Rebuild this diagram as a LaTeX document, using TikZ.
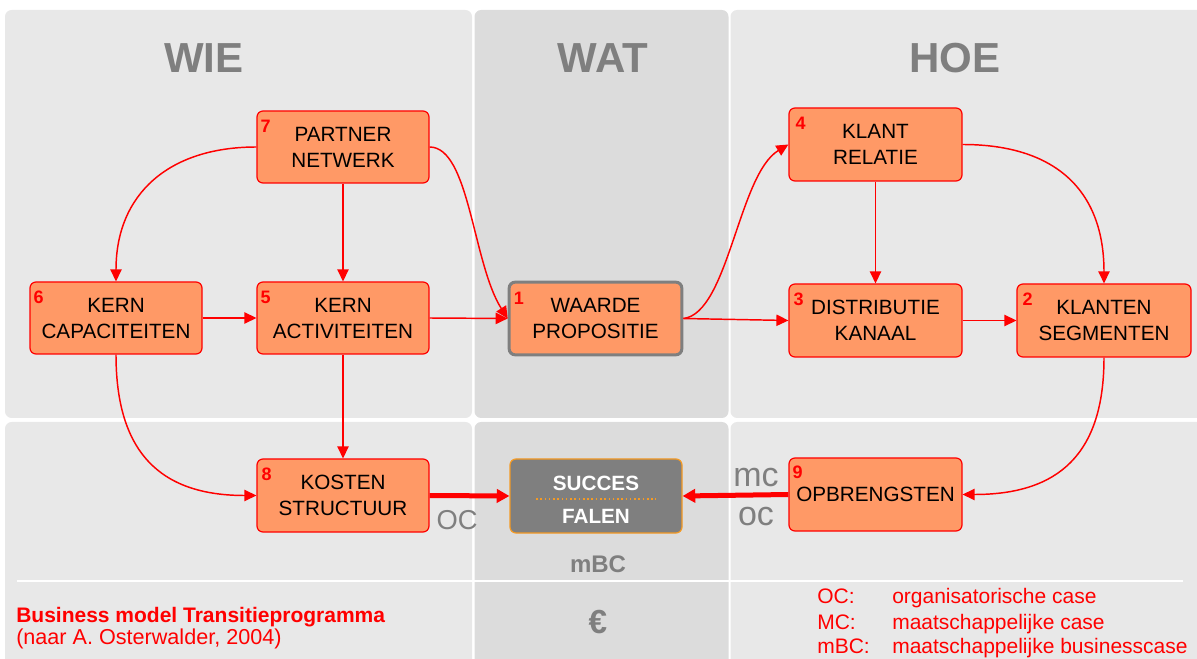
\documentclass[tikz,border=0pt]{standalone}
\usepackage{fontspec}
\setmainfont{Liberation Sans}
\usetikzlibrary{arrows.meta}
\definecolor{boxfill}{HTML}{FF9966}
\definecolor{panelside}{HTML}{E8E8E8}
\definecolor{panelmid}{HTML}{DCDCDC}
\definecolor{labelgray}{HTML}{7F7F7F}
\definecolor{succborder}{HTML}{F59A23}
\begin{document}
\begin{tikzpicture}[x=0.75pt,y=-0.75pt,
  block/.style={draw=red, fill=boxfill, line width=0.9pt, rounded corners=4.5pt,
    minimum width=129pt, minimum height=54pt, align=center, inner sep=0pt,
    font=\fontsize{15.5pt}{19.5pt}\selectfont},
  num/.style={anchor=base west, text=red, inner sep=0pt,
    font=\fontsize{13.5pt}{16pt}\selectfont\bfseries},
  title/.style={anchor=base, text=labelgray, inner sep=0pt,
    font=\fontsize{31.5pt}{34pt}\selectfont\bfseries},
  link/.style={draw=red, line width=1.1pt, -{Triangle[length=9pt,width=8.5pt]}},
  thick link/.style={draw=red, line width=3.75pt, -{Triangle[length=9.5pt,width=10pt]}},
  caselabel/.style={anchor=base, text=labelgray, inner sep=0pt},
  legend/.style={anchor=base west, text=red, inner sep=0pt,
    font=\fontsize{15.75pt}{18pt}\selectfont},
  panel/.style={rounded corners=5pt}
]
\useasboundingbox (0,0) rectangle (1197,659);
\clip (0,0) rectangle (1197,659);

% background panels
\fill[panelside, panel] (5,10) rectangle (472,418);
\fill[panelmid, panel] (474.5,10) rectangle (728.5,418);
\fill[panelside, panel] (730.5,10) rectangle (1215,418);
\fill[panelside, panel] (5,422) rectangle (472,680);
\fill[panelmid, panel] (474.5,422) rectangle (728.5,680);
\fill[panelside, panel] (730.5,422) rectangle (1215,680);
\draw[white, line width=1.5pt] (17,581) -- (1183,581);

% column titles
\node[title] (twie) at (204,73) {WIE};
\node[title] (twat) at (603,73) {WAT};
\node[title] (thoe) at (955,73) {HOE};

% building blocks
\node[block] (p7) at (343,147) {PARTNER\\NETWERK};
\node[block] (p6) at (116,318) {KERN\\CAPACITEITEN};
\node[block] (p5) at (343,318) {KERN\\ACTIVITEITEN};
\node[block, draw=labelgray, line width=2.25pt, minimum width=129.5pt, minimum height=54.5pt] (p1) at (595.5,318.5) {WAARDE\\PROPOSITIE};
\node[block, minimum width=129.75pt, minimum height=54.75pt] (p4) at (875.5,144.5) {KLANT\\RELATIE};
\node[block, minimum width=129.75pt, minimum height=54.75pt] (p3) at (875.5,320.5) {DISTRIBUTIE\\KANAAL};
\node[block, minimum width=130.5pt, minimum height=54.75pt] (p2) at (1104,320.5) {KLANTEN\\SEGMENTEN};
\node[block, minimum width=129.75pt, minimum height=54.75pt] (p9) at (875.5,494.5) {OPBRENGSTEN};
\node[block, minimum width=129pt, minimum height=54.75pt] (p8) at (343,495.5) {KOSTEN\\STRUCTUUR};
\node[draw=succborder, fill=labelgray, line width=0.9pt, rounded corners=4.5pt,
  minimum width=129pt, minimum height=55.5pt, inner sep=0pt] (succ) at (596,496) {};
\node[anchor=base, text=white, inner sep=0pt, font=\fontsize{15.5pt}{18pt}\selectfont\bfseries] (tsucc) at (596,490) {SUCCES};
\node[anchor=base, text=white, inner sep=0pt, font=\fontsize{15.5pt}{18pt}\selectfont\bfseries] (tfal) at (596,523) {FALEN};
\draw[succborder, line width=1.2pt, dotted] (536,499) -- (656,499);

% block numbers
\node[num] (n7) at ([shift={(4,22)}]p7.north west) {7};
\node[num] (n6) at ([shift={(4,22)}]p6.north west) {6};
\node[num] (n5) at ([shift={(4,22)}]p5.north west) {5};
\node[num] (n1) at ([shift={(6,24)}]p1.north west) {1};
\node[num] (n4) at ([shift={(7,22)}]p4.north west) {4};
\node[num] (n3) at ([shift={(5,22)}]p3.north west) {3};
\node[num] (n2) at ([shift={(6,22)}]p2.north west) {2};
\node[num] (n9) at ([shift={(4,21)}]p9.north west) {9};
\node[num] (n8) at ([shift={(5,22)}]p8.north west) {8};

% connectors
\draw[link] (p7.west) to[out=180,in=90,looseness=1.15] (p6.north);
\draw[link] (p7.south) -- (p5.north);
\draw[link] (p7.east) .. controls +(40,0) and +(-35,-55) .. (p1.west);
\draw[link] (p6.east) -- (p5.west);
\draw[link] (p5.east) -- (p1.west);
\draw[link] (p1.east) .. controls +(45,-5) and +(-50,30) .. (p4.west);
\draw[link] (p1.east) -- (p3.west);
\draw[link] (p4.south) -- (p3.north);
\draw[link] (p4.east) to[out=0,in=90,looseness=1.2] (p2.north);
\draw[link] (p3.east) -- (p2.west);
\draw[link] (p2.south) to[out=-90,in=0,looseness=1.25] (p9.east);
\draw[link] (p6.south) to[out=-90,in=180,looseness=1.25] (p8.west);
\draw[link] (p5.south) -- (p8.north);
\draw[thick link] (p8.east) -- (succ.west);
\draw[thick link] (p9.west) -- (succ.east);

% case labels
\node[caselabel, font=\fontsize{20.5pt}{22pt}\selectfont] (loc) at (457,529) {OC};
\node[caselabel, font=\fontsize{25.5pt}{28pt}\selectfont] (rmc) at (756,487) {mc};
\node[caselabel, font=\fontsize{25.5pt}{28pt}\selectfont] (roc) at (756,525) {oc};
\node[caselabel, font=\fontsize{18pt}{20pt}\selectfont\bfseries] (mbc) at (598,572) {mBC};
\node[caselabel, font=\fontsize{25pt}{28pt}\selectfont\bfseries] (euro) at (598,633) {€};

% footer
\node[legend, font=\fontsize{15.75pt}{18pt}\selectfont\bfseries] (ftitle) at (16,622) {Business model Transitieprogramma};
\node[legend, font=\fontsize{16.2pt}{18pt}\selectfont] (fsrc) at (16,644) {(naar A. Osterwalder, 2004)};

% legend
\node[legend] (k1) at (817,603) {OC:};
\node[legend] (k2) at (817,629) {MC:};
\node[legend] (k3) at (817,653) {mBC:};
\node[legend] (v1) at (892,603) {organisatorische case};
\node[legend] (v2) at (892,629) {maatschappelijke case};
\node[legend] (v3) at (892,653) {maatschappelijke businesscase};
\end{tikzpicture}
\end{document}
